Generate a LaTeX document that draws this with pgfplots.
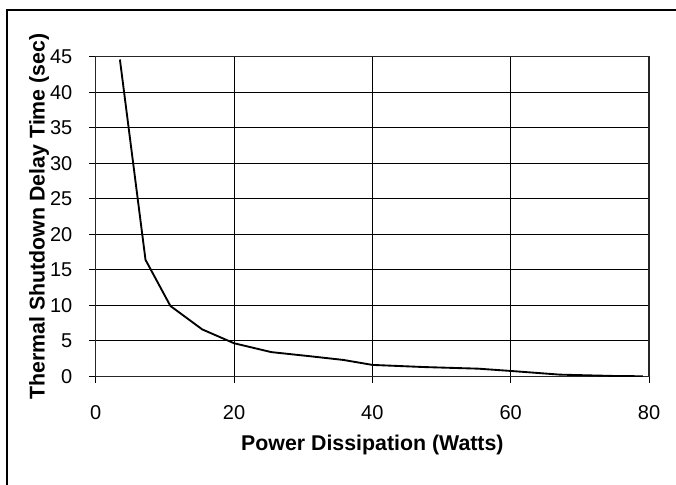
\documentclass[border=0pt]{standalone}
\usepackage{fontspec}
\setmainfont{Liberation Sans}
\usepackage{pgfplots}
\pgfplotsset{compat=1.18}
\begin{document}
\begin{tikzpicture}
\useasboundingbox (0,0) rectangle (507pt,-363.75pt);
\draw[line width=1.5pt] (5.25pt,-363.75pt) -- (5.25pt,-7.7pt) -- (507pt,-7.7pt);
\begin{axis}[
  at={(71.78pt,-282.2pt)}, anchor=south west,
  scale only axis, width=415pt, height=239.7pt,
  xmin=0, xmax=80, ymin=0, ymax=45,
  xtick={0,20,40,60,80}, ytick={0,5,...,45},
  grid=major, major grid style={black, line width=0.75pt},
  axis line style={black!85, line width=0.8pt},
  tick align=outside, major tick length=5pt,
  tick style={black, line width=0.75pt},
  xtick pos=bottom, ytick pos=left,
  /pgf/number format/assume math mode=true,
  tick label style={font=\fontsize{15}{17}\selectfont, inner sep=0pt},
  xticklabel style={anchor=base, yshift=-27.75pt},
  yticklabel style={anchor=east, xshift=-12.3pt},
  xlabel={Power Dissipation (Watts)},
  ylabel={Thermal Shutdown Delay Time (sec)},
  label style={font=\bfseries\fontsize{16}{19}\selectfont, inner sep=0pt},
  xlabel style={at={(axis description cs:0.5,0)}, anchor=base, yshift=-55.3pt},
  ylabel style={at={([xshift=-38.4pt]axis description cs:0,0.5)}, anchor=base, rotate=0},
]
\addplot[black, line width=1.4pt] coordinates {
(3.5,44.6) (7.2,16.4) (10.8,9.9) (15.4,6.6) (20,4.65) (25.4,3.4) (30.7,2.85)
(35.8,2.3) (40,1.6) (47.4,1.3) (55.3,1.07) (60,0.75) (67.1,0.23) (75,0.04) (79.1,0)
};
\end{axis}
\end{tikzpicture}
\end{document}
